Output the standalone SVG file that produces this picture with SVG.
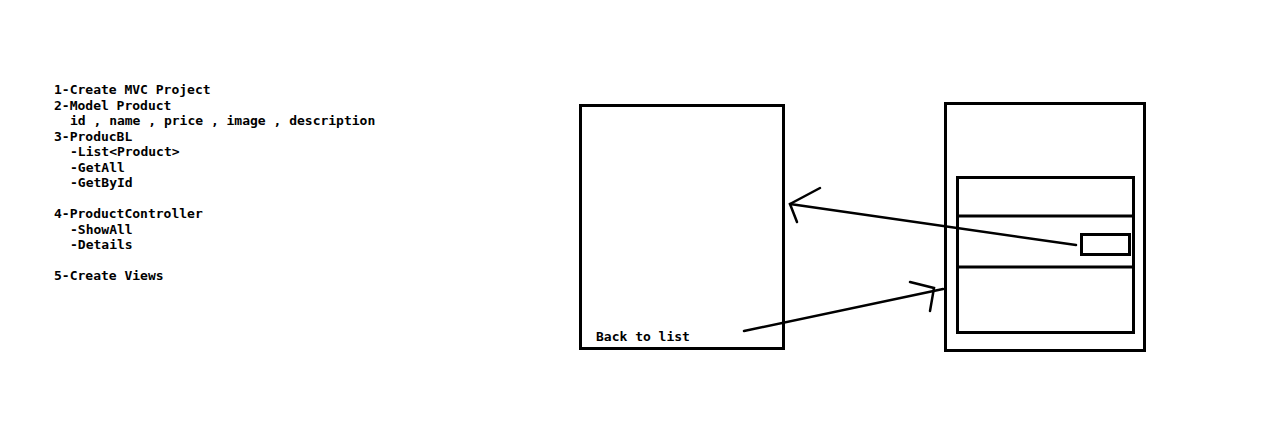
<svg xmlns="http://www.w3.org/2000/svg" width="1264" height="433" viewBox="0 0 1264 433">
<style>
text{font-family:"DejaVu Sans Mono","Liberation Mono",monospace;font-weight:bold;font-size:13px;fill:#000}
.s{fill:none;stroke:#000;stroke-width:3}
.l{fill:none;stroke:#000;stroke-width:2.5;stroke-linecap:round}
</style>
<rect width="1264" height="433" fill="#fff"/>
<g id="notes">
<text x="54" y="94">1-Create MVC Project</text>
<text x="54" y="110">2-Model Product</text>
<text x="70" y="125">id , name , price , image , description</text>
<text x="54" y="141">3-ProducBL</text>
<text x="70" y="156">-List&lt;Product&gt;</text>
<text x="70" y="172">-GetAll</text>
<text x="70" y="187">-GetById</text>
<text x="54" y="218">4-ProductController</text>
<text x="70" y="234">-ShowAll</text>
<text x="70" y="249">-Details</text>
<text x="54" y="280">5-Create Views</text>
</g>
<g id="details-view">
<rect class="s" x="580.5" y="105.5" width="203" height="243"/>
<text x="596" y="341">Back to list</text>
</g>
<g id="list-view">
<rect class="s" x="945.5" y="103.5" width="199" height="247"/>
<rect class="s" x="957.5" y="177.5" width="176" height="155"/>
<line class="s" x1="957" y1="216" x2="1134" y2="216"/>
<line class="s" x1="957" y1="267" x2="1134" y2="267"/>
<rect class="s" x="1081.5" y="234.5" width="48" height="20"/>
</g>
<g id="connectors">
<polyline class="l" points="1076,245 790,204"/>
<polyline class="l" points="820,188 790,204 797,222"/>
<polyline class="l" points="744,331 943,289"/>
<polyline class="l" points="910,282 934,288 930,311"/>
</g>
</svg>
